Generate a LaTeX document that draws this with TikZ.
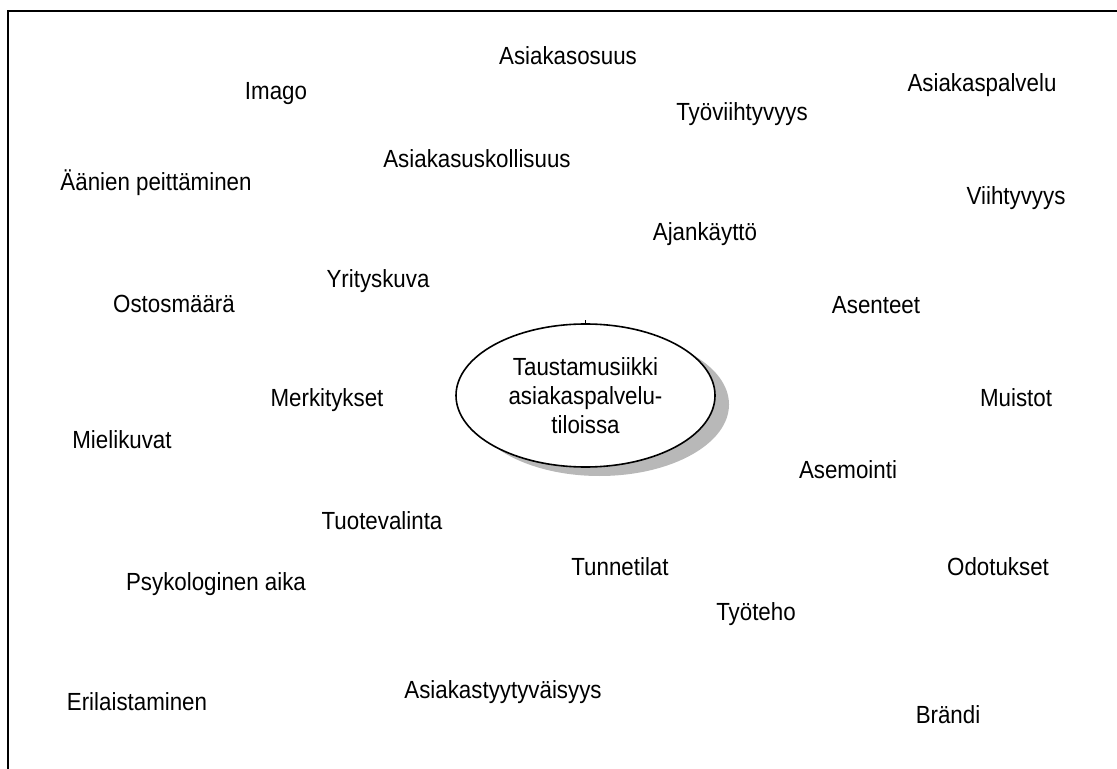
\documentclass[tikz,border=0pt]{standalone}
\usepackage{fontspec}
\setmainfont[FakeStretch=0.9]{Liberation Sans}
\usetikzlibrary{shapes.geometric, shadows}

\tikzset{
  sana/.style={anchor=base, inner sep=0pt, font=\fontsize{12.4}{14.5}\selectfont},
  keskus/.style={ellipse, draw, thick, fill=white, minimum width=129.5pt, minimum height=71.5pt,
    inner sep=0pt, align=center, font=\fontsize{12.4}{14.5}\selectfont,
    drop shadow={shadow xshift=7pt, shadow yshift=-4.5pt, fill=black!28, opacity=1}},
}

\begin{document}
\begin{tikzpicture}[x=0.5pt, y=-0.5pt]
\useasboundingbox (0,0) rectangle (1117,769);
% frame, open on the right and at the bottom
\draw[line width=1pt] (8,769) -- (8,11) -- (1117,11);

% centre
\node[keskus] (musiikki) at (585.5,395.5) {Taustamusiikki\\asiakaspalvelu-\\tiloissa};
\draw[thin] (musiikki.north) ++(0,-3) -- ++(0,5);

% words around it
\node[sana] (imago) at (276,100) {Imago};
\node[sana] (osuus) at (568,65) {Asiakasosuus};
\node[sana] (palvelu) at (982,92) {Asiakaspalvelu};
\node[sana] (tyoviihtyvyys) at (742,121) {Työviihtyvyys};
\node[sana] (uskollisuus) at (477,168) {Asiakasuskollisuus};
\node[sana] (peittaminen) at (156,191) {Äänien peittäminen};
\node[sana] (viihtyvyys) at (1016,205) {Viihtyvyys};
\node[sana] (ajankaytto) at (705,241) {Ajankäyttö};
\node[sana] (yrityskuva) at (378,288) {Yrityskuva};
\node[sana] (ostosmaara) at (174,313) {Ostosmäärä};
\node[sana] (asenteet) at (876,314) {Asenteet};
\node[sana] (merkitykset) at (327,407) {Merkitykset};
\node[sana] (muistot) at (1016,407) {Muistot};
\node[sana] (mielikuvat) at (122,448) {Mielikuvat};
\node[sana] (asemointi) at (848,478) {Asemointi};
\node[sana] (tuotevalinta) at (382,529) {Tuotevalinta};
\node[sana] (tunnetilat) at (620,575) {Tunnetilat};
\node[sana] (odotukset) at (998,575) {Odotukset};
\node[sana] (aika) at (216,590) {Psykologinen aika};
\node[sana] (tyoteho) at (756,620) {Työteho};
\node[sana] (tyytyvaisyys) at (503,698) {Asiakastyytyväisyys};
\node[sana] (erilaistaminen) at (137,710) {Erilaistaminen};
\node[sana] (brandi) at (948,723) {Brändi};
\end{tikzpicture}
\end{document}
